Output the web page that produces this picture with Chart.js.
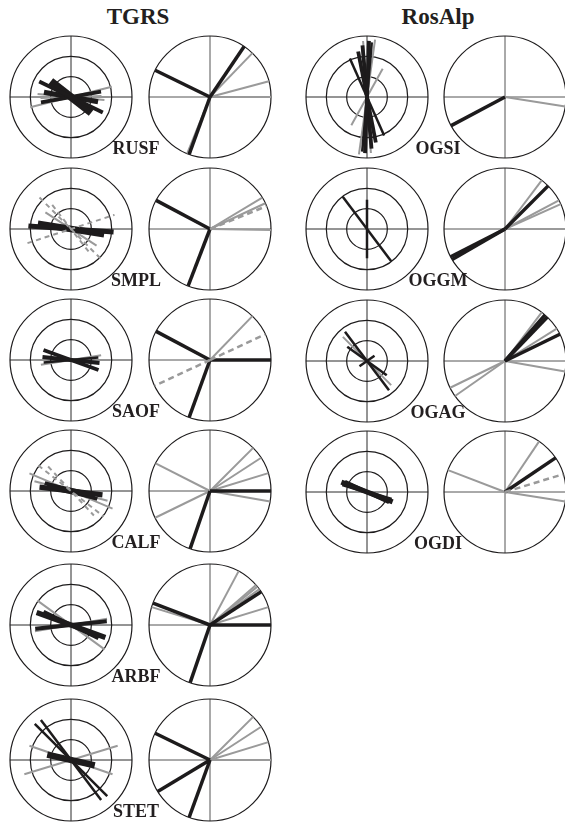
<!DOCTYPE html>
<html>
<head>
<meta charset="utf-8">
<script src="https://cdn.jsdelivr.net/npm/chart.js@4.4.1/dist/chart.umd.min.js"></script>
<style>
  body { margin: 0; width: 565px; height: 825px; overflow: hidden; background: #fff; position: relative;
         font-family: "Liberation Serif", "DejaVu Serif", serif; }
  canvas { position: absolute; }
  .txt { position: absolute; transform: translate(-50%, -50%); font-weight: bold; line-height: 1;
         white-space: nowrap; color: #231f20; }
</style>
</head>
<body>
<script>
'use strict';

// sites, in the order they appear (TGRS column, then RosAlp column)
const siteNames = ['RUSF', 'SMPL', 'SAOF', 'CALF', 'ARBF', 'STET', 'OGSI', 'OGGM', 'OGAG', 'OGDI'];
const groupNames = ['TGRS', 'RosAlp'];
const siteGroup = [0, 0, 0, 0, 0, 0, 1, 1, 1, 1];

// left diagrams: [azimuth deg, length as fraction of outer ring, weight]
const roseBlack = [
  [[116, 0.58, 2], [128, 0.42, 5], [80, 0.5, 2], [100, 0.45, 3]],   // RUSF
  [[94, 0.7, 3], [99, 0.55, 4]],                                   // SMPL
  [[110, 0.48, 2], [96, 0.47, 2], [85, 0.45, 1]],                  // SAOF
  [[97, 0.52, 3], [103, 0.4, 4], [107, 0.45, 2]],                  // CALF
  [[110, 0.6, 3], [84, 0.59, 2], [116, 0.5, 2]],                   // ARBF
  [[135, 0.84, 1], [143, 0.82, 1], [103, 0.4, 4]],                 // STET
  [[2, 0.92, 2], [336, 0.69, 1], [349, 0.76, 2], [5, 0.9, 1], [175, 0.85, 2]], // OGSI
  [[143, 0.66, 1], [0, 0.48, 1]],                                  // OGGM
  [[143, 0.6, 1], [126, 0.4, 1], [55, 0.15, 1]],                   // OGAG
  [[111, 0.45, 3], [107, 0.42, 2], [115, 0.4, 2]]                  // OGDI
];
const roseGray = [
  [[76, 0.69], [95, 0.55], [88, 0.5]],
  [[123, 0.5]],
  [[81, 0.5]],
  [[113, 0.74], [105, 0.62]],
  [[126, 0.68], [80, 0.6]],
  [[73, 0.8], [109, 0.72]],
  [[356, 0.92], [29, 0.53], [8, 0.95]],
  [],
  [[135, 0.56]],
  []
];
const roseDashed = [
  [],
  [[72, 0.75], [135, 0.73], [142, 0.5]],
  [],
  [[128, 0.68], [137, 0.55]],
  [], [], [], [], [], []
];

// right diagrams: azimuths of rays from the centre to the rim
const rayBlack = [
  [296, 34, 200],
  [298, 201],
  [298, 90, 200],
  [90, 199],
  [291, 199, 90, 57],
  [296, 239, 200],
  [242],
  [240, 243, 45],
  [41, 44, 64],
  [56]
];
const rayGray = [
  [44, 75, 90, 202],
  [59, 65, 91],
  [44],
  [297, 45, 57, 73, 100, 244],
  [287, 28, 49, 51, 54, 73],
  [45, 57, 73, 90],
  [99],
  [37, 62, 66, 90],
  [37, 58, 100, 244, 235],
  [34, 291, 99]
];
const rayDashed = [
  [], [68], [65, 245], [], [], [], [], [], [], [73]
];

// layout
const R = 61, HALF = 64;
const colX = [{ rose: 71, ray: 210, label: 136, title: 138 }, { rose: 367, ray: 505, label: 438, title: 438 }];
const rowY = [[97, 229, 360, 491, 625, 760], [97, 229, 361, 492]];
const BLACK = '#1d1b1c', GRAY = '#9a9a9a';

const gridPlugin = {
  id: 'grid',
  beforeDatasetsDraw(chart, args, opts) {
    const ctx = chart.ctx, x = chart.scales.x, y = chart.scales.y;
    const cx = x.getPixelForValue(0), cy = y.getPixelForValue(0);
    const r = x.getPixelForValue(1) - cx;
    ctx.save();
    ctx.strokeStyle = opts.crossColor;
    ctx.lineWidth = 1;
    ctx.beginPath();
    ctx.moveTo(cx - r, cy); ctx.lineTo(cx + r, cy);
    ctx.moveTo(cx, cy - r); ctx.lineTo(cx, cy + r);
    ctx.stroke();
    ctx.strokeStyle = BLACK;
    ctx.lineWidth = 1.2;
    opts.rings.forEach(k => {
      ctx.beginPath();
      ctx.arc(cx, cy, r * k, 0, Math.PI * 2);
      ctx.stroke();
    });
    ctx.restore();
  }
};

function pt(az, len) {
  const a = az * Math.PI / 180;
  return { x: len * Math.sin(a), y: len * Math.cos(a) };
}

function seg(from, to, color, width, dash, order) {
  return {
    data: [from, to], showLine: true, pointRadius: 0, borderColor: color,
    borderWidth: width, borderDash: dash, order: order, borderCapStyle: 'butt'
  };
}

function makePlot(cx, cy, datasets, rings, crossColor) {
  const c = document.createElement('canvas');
  c.width = HALF * 2; c.height = HALF * 2;
  c.style.left = (cx - HALF) + 'px';
  c.style.top = (cy - HALF) + 'px';
  document.body.appendChild(c);
  const s = HALF / R;
  new Chart(c, {
    type: 'scatter',
    data: { datasets: datasets },
    options: {
      responsive: false, animation: false, events: [],
      layout: { padding: 0 },
      scales: {
        x: { type: 'linear', min: -s, max: s, display: false },
        y: { type: 'linear', min: -s, max: s, display: false }
      },
      plugins: {
        legend: { display: false }, tooltip: { enabled: false },
        grid: { rings: rings, crossColor: crossColor }
      }
    },
    plugins: [gridPlugin]
  });
}

function addText(txt, x, y, size) {
  const d = document.createElement('div');
  d.className = 'txt';
  d.textContent = txt;
  d.style.left = x + 'px';
  d.style.top = y + 'px';
  d.style.fontSize = size + 'px';
  document.body.appendChild(d);
}

groupNames.forEach((g, gi) => addText(g, colX[gi].title, 16, 23));

const rowCount = [0, 0];
siteNames.forEach((name, i) => {
  const g = siteGroup[i];
  const cy = rowY[g][rowCount[g]++];
  const col = colX[g];

  // left: bidirectional bars through the centre
  const left = [];
  roseGray[i].forEach(s => left.push(seg(pt(s[0] + 180, s[1]), pt(s[0], s[1]), GRAY, 2, [], 3)));
  roseBlack[i].forEach(s => left.push(seg(pt(s[0] + 180, s[1]), pt(s[0], s[1]), BLACK, 1.2 + s[2] * 1.3, [], 2)));
  roseDashed[i].forEach(s => left.push(seg(pt(s[0] + 180, s[1]), pt(s[0], s[1]), GRAY, 2, [5, 4], 1)));
  makePlot(col.rose, cy, left, [1 / 3, 2 / 3, 1], '#2b2b2b');

  // right: rays from the centre to the rim
  const right = [];
  const o = { x: 0, y: 0 };
  rayGray[i].forEach(a => right.push(seg(o, pt(a, 1), GRAY, 2, [], 3)));
  rayBlack[i].forEach(a => right.push(seg(o, pt(a, 1), BLACK, 3.5, [], 2)));
  rayDashed[i].forEach(a => right.push(seg(o, pt(a, 1), GRAY, 2.5, [6, 4], 1)));
  makePlot(col.ray, cy, right, [1], '#555');

  addText(name, col.label, cy + 51, 18);
});
</script>
</body>
</html>
